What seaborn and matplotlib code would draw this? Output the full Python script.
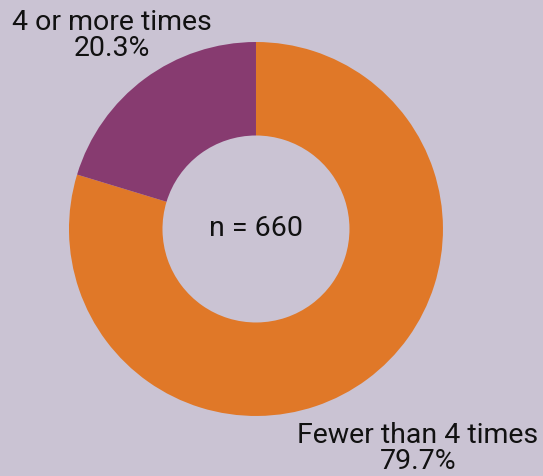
import matplotlib
matplotlib.use("Agg")
import matplotlib.pyplot as plt
import seaborn as sns

categories = ["Fewer than 4 times", "4 or more times"]
shares = [79.7, 20.3]
sample_size = 660

bg = "#CAC3D3"
palette = sns.color_palette(["#E07828", "#873B70"])

sns.set_theme(style="white")
plt.rcParams["font.family"] = ["Roboto", "DejaVu Sans"]

fig = plt.figure(figsize=(5.43, 4.76), dpi=100, facecolor=bg)
ax = fig.add_axes([0, 0, 1, 1])
ax.set_facecolor(bg)

ax.pie(shares, colors=palette, startangle=90, counterclock=False,
       radius=1.0, wedgeprops=dict(width=0.5, linewidth=0))

ax.set_xlim(-1.369, 1.535)
ax.set_ylim(-1.321, 1.2246)
ax.set_aspect("equal")
ax.axis("off")

fs = 20.5
ax.text(0, 0, f"n = {sample_size}", ha="center", va="center",
        fontsize=fs, color="#111111")

ax.text(-0.77, 1.035, f"{categories[1]}\n{shares[1]}%", ha="center", va="center",
        fontsize=fs, color="#111111", linespacing=0.95)
ax.text(0.866, -1.175, f"{categories[0]}\n{shares[0]}%", ha="center", va="center",
        fontsize=fs, color="#111111", linespacing=0.95)

fig.savefig("out.png", dpi=100, facecolor=bg)
